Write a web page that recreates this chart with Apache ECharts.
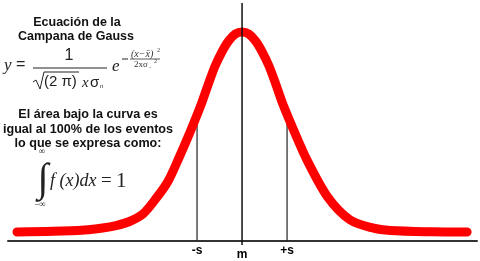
<!DOCTYPE html>
<html><head><meta charset="utf-8">
<script src="https://cdn.jsdelivr.net/npm/echarts@6/dist/echarts.min.js"></script>
<style>html,body{margin:0;padding:0;background:#fff}#c{width:480px;height:261px}</style>
</head><body><div id="c"></div>
<script>
// Curve: x in units of s (sigma) from m, y relative to peak height
var curveX = [-5.0, -4.2, -3.5, -3.1, -2.8, -2.5, -2.2, -1.9, -1.65, -1.4, -1.15, -0.9, -0.75, -0.6, -0.45, -0.3, -0.15, 0, 0.15, 0.3, 0.45, 0.6, 0.75, 0.9, 1.15, 1.45, 1.9, 2.4, 2.9, 3.3, 4.2, 5.0];
var curveY = [0.005, 0.008, 0.015, 0.025, 0.037, 0.057, 0.095, 0.175, 0.255, 0.375, 0.505, 0.645, 0.74, 0.83, 0.90, 0.955, 0.99, 1.0, 0.99, 0.955, 0.90, 0.83, 0.74, 0.645, 0.51, 0.36, 0.18, 0.065, 0.025, 0.012, 0.006, 0.005];
var tickPositions = [-1, 0, 1];
var tickLabels = ['-s', 'm', '+s'];
var sigmaHeight = 0.57;   // curve height where the ±s lines meet it
var meanLineTop = 1.144;

var chart = echarts.init(document.getElementById('c'), null, {renderer: 'canvas'});
var curveData = curveX.map(function (x, i) { return [x, curveY[i]]; });
var sans = '"Liberation Sans", Arial, sans-serif';
var serif = '"Liberation Serif", "Times New Roman", serif';

var option = {
  backgroundColor: '#ffffff',
  animation: false,
  grid: {left: 8, right: 3, top: 3, bottom: 20, containLabel: false, outerBoundsMode: 'none'},
  xAxis: {
    type: 'value', min: -5.2, max: 5.22,
    splitLine: {show: false},
    axisLine: {show: true, onZero: false, lineStyle: {color: '#333', width: 2}},
    axisTick: {show: false},
    axisLabel: {
      customValues: tickPositions,
      margin: 4,
      color: '#000',
      fontFamily: sans,
      fontWeight: 'bold',
      fontSize: 12,
      formatter: function (v) {
        var i = tickPositions.indexOf(v);
        var t = i >= 0 ? tickLabels[i] : '';
        return v === 0 ? '{m|' + t + '}' : t;
      },
      rich: {m: {padding: [4, 0, 0, 0], fontWeight: 'bold', fontSize: 12, fontFamily: sans, color: '#000'}}
    }
  },
  yAxis: {type: 'value', min: -0.04, max: 1.144, show: false},
  series: [
    {type: 'line', data: [[-1, -0.04], [-1, sigmaHeight]], symbol: 'none', lineStyle: {color: '#222', width: 1.2}, z: 1},
    {type: 'line', data: [[1, -0.04], [1, sigmaHeight]], symbol: 'none', lineStyle: {color: '#222', width: 1.2}, z: 1},
    {type: 'line', data: [[0, -0.06], [0, meanLineTop]], symbol: 'none', clip: false, lineStyle: {color: '#111', width: 1.5}, z: 3},
    {type: 'line', data: curveData, symbol: 'none', smooth: 0.3, lineStyle: {color: '#ff0000', width: 9, cap: 'round', join: 'round'}, z: 2}
  ],
  graphic: [
    {type: 'text', x: 77, y: 23, style: {text: 'Ecuación de la', font: 'bold 12.5px ' + sans, fill: '#111', align: 'center', verticalAlign: 'middle'}},
    {type: 'text', x: 76, y: 37, style: {text: 'Campana de Gauss', font: 'bold 12.5px ' + sans, fill: '#111', align: 'center', verticalAlign: 'middle'}},
    {type: 'text', x: 4, y: 66, style: {text: 'y', font: 'italic 17px ' + serif, fill: '#222', verticalAlign: 'middle'}},
    {type: 'text', x: 16, y: 65, style: {text: '=', font: '16px ' + sans, fill: '#222', verticalAlign: 'middle'}},
    {type: 'text', x: 69, y: 56, style: {text: '1', font: '16px ' + sans, fill: '#222', align: 'center', verticalAlign: 'middle'}},
    {type: 'line', shape: {x1: 33, y1: 68, x2: 107, y2: 68}, style: {stroke: '#222', lineWidth: 1}},
    {type: 'polyline', shape: {points: [[33, 82], [36, 80], [40, 89], [44, 72], [79, 72]]}, style: {stroke: '#222', lineWidth: 1, fill: null}},
    {type: 'text', x: 44, y: 82, style: {text: '(2 π)', font: '15px ' + sans, fill: '#222', verticalAlign: 'middle'}},
    {type: 'text', x: 82, y: 83, style: {text: 'x', font: 'italic 15px ' + serif, fill: '#222', verticalAlign: 'middle'}},
    {type: 'text', x: 90, y: 83, style: {text: 'σ', font: '15px ' + sans, fill: '#222', verticalAlign: 'middle'}},
    {type: 'text', x: 100, y: 86, style: {text: 'n', font: '6px ' + sans, fill: '#222', verticalAlign: 'middle'}},
    {type: 'text', x: 112, y: 67, style: {text: 'e', font: 'italic 17px ' + serif, fill: '#222', verticalAlign: 'middle'}},
    {type: 'line', shape: {x1: 122, y1: 59, x2: 128, y2: 59}, style: {stroke: '#222', lineWidth: 1}},
    {type: 'text', x: 131, y: 54, style: {text: '(x−x̄)', font: 'italic 10px ' + serif, fill: '#333', verticalAlign: 'middle'}},
    {type: 'text', x: 157, y: 50, style: {text: '2', font: '6px ' + serif, fill: '#333', verticalAlign: 'middle'}},
    {type: 'line', shape: {x1: 130, y1: 59, x2: 160, y2: 59}, style: {stroke: '#333', lineWidth: 0.8}},
    {type: 'text', x: 134, y: 65, style: {text: '2xσ', font: '9px ' + serif, fill: '#333', verticalAlign: 'middle'}},
    {type: 'text', x: 149, y: 66, style: {text: '.', font: '9px ' + serif, fill: '#333', verticalAlign: 'middle'}},
    {type: 'text', x: 154, y: 61, style: {text: '2', font: '6px ' + serif, fill: '#333', verticalAlign: 'middle'}},
    {type: 'text', x: 88, y: 115, style: {text: 'El área bajo la curva es', font: 'bold 12.6px ' + sans, fill: '#111', align: 'center', verticalAlign: 'middle'}},
    {type: 'text', x: 88, y: 130, style: {text: 'igual al 100% de los eventos', font: 'bold 12.6px ' + sans, fill: '#111', align: 'center', verticalAlign: 'middle'}},
    {type: 'text', x: 88, y: 144, style: {text: 'lo que se expresa como:', font: 'bold 12.6px ' + sans, fill: '#111', align: 'center', verticalAlign: 'middle'}},
    {type: 'text', x: 42, y: 152, style: {text: '∞', font: '9px ' + serif, fill: '#222', align: 'center', verticalAlign: 'middle'}},
    {type: 'text', x: 43, y: 180, style: {text: '∫', font: '40px ' + serif, fill: '#222', align: 'center', verticalAlign: 'middle'}},
    {type: 'text', x: 40, y: 205, style: {text: '−∞', font: '9px ' + serif, fill: '#222', align: 'center', verticalAlign: 'middle'}},
    {type: 'text', x: 50, y: 181, style: {text: 'f (x)dx', font: 'italic 18px ' + serif, fill: '#222', verticalAlign: 'middle'}},
    {type: 'text', x: 101, y: 181, style: {text: '=', font: '19px ' + serif, fill: '#222', verticalAlign: 'middle'}},
    {type: 'text', x: 116, y: 181, style: {text: '1', font: '21px ' + serif, fill: '#222', verticalAlign: 'middle'}}
  ]
};
chart.setOption(option);
</script></body></html>
